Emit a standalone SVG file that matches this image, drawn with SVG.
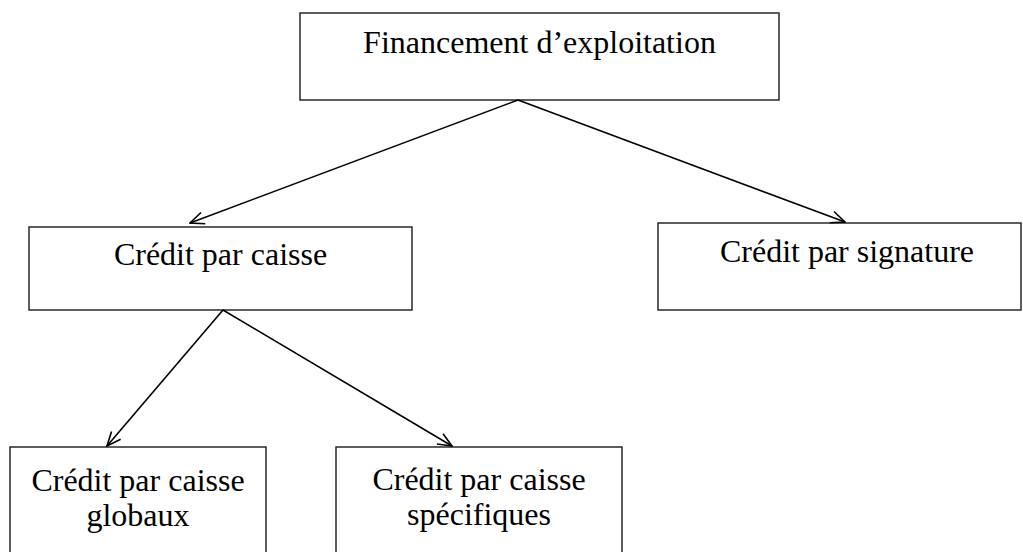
<svg xmlns="http://www.w3.org/2000/svg" width="1023" height="552" viewBox="0 0 1023 552">
  <style>
    .box { fill: #ffffff; stroke: #1a1a1a; stroke-width: 1.4; }
    .label { font-family: "Liberation Serif", "Times New Roman", serif; font-size: 32px; fill: #000000; text-anchor: middle; }
    .edge { fill: none; stroke: #000000; stroke-width: 1.6; }
  </style>
  <defs>
    <marker id="open-arrow" viewBox="0 0 16 14" markerWidth="16" markerHeight="14" refX="15" refY="7" orient="auto" markerUnits="userSpaceOnUse">
      <path d="M1,1 L15,7 L1,13" fill="none" stroke="#000000" stroke-width="1.6"/>
    </marker>
  </defs>
  <rect width="1023" height="552" fill="#ffffff"/>

  <g id="node-financement">
    <rect class="box" x="300" y="13" width="479" height="87"/>
    <text class="label" x="539.5" y="53">Financement d’exploitation</text>
  </g>

  <g id="node-credit-caisse">
    <rect class="box" x="29" y="227" width="383" height="83"/>
    <text class="label" x="220.5" y="265">Crédit par caisse</text>
  </g>

  <g id="node-credit-signature">
    <rect class="box" x="658" y="223" width="363" height="87"/>
    <text class="label" x="847" y="262">Crédit par signature</text>
  </g>

  <g id="node-caisse-globaux">
    <rect class="box" x="10" y="447" width="256" height="120"/>
    <text class="label" x="138" y="491">Crédit par caisse</text>
    <text class="label" x="138" y="526">globaux</text>
  </g>

  <g id="node-caisse-specifiques">
    <rect class="box" x="336" y="447" width="286" height="120"/>
    <text class="label" x="479" y="490">Crédit par caisse</text>
    <text class="label" x="479" y="525">spécifiques</text>
  </g>

  <g id="connectors">
    <line class="edge" x1="518" y1="100" x2="190" y2="223" marker-end="url(#open-arrow)"/>
    <line class="edge" x1="518" y1="100" x2="845" y2="222" marker-end="url(#open-arrow)"/>
    <line class="edge" x1="223" y1="310" x2="107" y2="446" marker-end="url(#open-arrow)"/>
    <line class="edge" x1="223" y1="310" x2="452" y2="446" marker-end="url(#open-arrow)"/>
  </g>
</svg>
